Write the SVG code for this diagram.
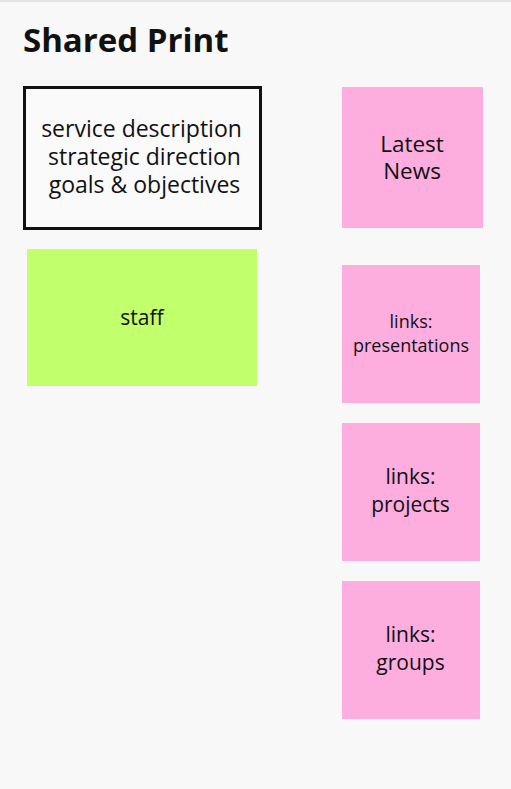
<svg xmlns="http://www.w3.org/2000/svg" width="511" height="789" viewBox="0 0 511 789">
<style>
.t{font-family:"Open Sans","Liberation Sans",sans-serif;fill:#111;text-anchor:middle}
.pink{fill:#fdaedf}
</style>
<rect x="0" y="0" width="511" height="789" fill="#f8f8f8"/>
<rect x="0" y="0" width="511" height="2" fill="#e2e2e2"/>
<text x="23" y="52" font-family="'Open Sans','Liberation Sans',sans-serif" font-weight="bold" font-size="33" fill="#111">Shared Print</text>
<g id="service">
<rect x="24.5" y="87.5" width="236" height="141" fill="#fafafa" stroke="#111" stroke-width="3"/>
<text class="t" font-size="23" x="141.5" y="137">service description</text>
<text class="t" font-size="23" x="144.5" y="165">strategic direction</text>
<text class="t" font-size="23" x="144.5" y="193">goals &amp; objectives</text>
</g>
<g id="news">
<rect class="pink" x="342" y="87" width="141" height="141"/>
<text class="t" font-size="22.5" x="412" y="152">Latest</text>
<text class="t" font-size="22.5" x="412" y="179">News</text>
</g>
<g id="staff">
<rect x="27" y="249" width="230" height="137" fill="#c1ff6d"/>
<text class="t" font-size="21" x="142" y="325">staff</text>
</g>
<g id="presentations">
<rect class="pink" x="342" y="265" width="138" height="138"/>
<text class="t" font-size="18" x="411" y="328">links:</text>
<text class="t" font-size="18" x="411" y="352">presentations</text>
</g>
<g id="projects">
<rect class="pink" x="342" y="423" width="138" height="138"/>
<text class="t" font-size="21" x="410.5" y="484">links:</text>
<text class="t" font-size="21" x="410.5" y="512">projects</text>
</g>
<g id="groups">
<rect class="pink" x="342" y="581" width="138" height="138"/>
<text class="t" font-size="21" x="410.5" y="642">links:</text>
<text class="t" font-size="21" x="410.5" y="670">groups</text>
</g>
<g id="connectors"></g>
</svg>
